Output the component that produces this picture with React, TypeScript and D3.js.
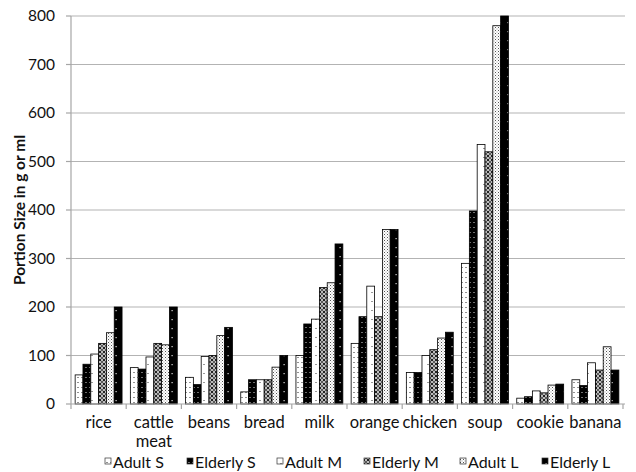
import React from "react";
import * as d3 from "d3";

const categories = ["rice", "cattle meat", "beans", "bread", "milk", "orange", "chicken", "soup", "cookie", "banana"];
const seriesNames = ["Adult S", "Elderly S", "Adult M", "Elderly M", "Adult L", "Elderly L"];
const adultS = [60, 75, 55, 25, 100, 125, 65, 290, 12, 50];
const elderlyS = [82, 72, 40, 50, 165, 180, 65, 398, 15, 38];
const adultM = [103, 97, 98, 50, 175, 243, 100, 535, 27, 85];
const elderlyM = [125, 125, 100, 50, 240, 180, 112, 520, 23, 70];
const adultL = [147, 122, 141, 76, 250, 360, 136, 780, 39, 118];
const elderlyL = [200, 200, 158, 100, 330, 360, 148, 800, 41, 70];
const yTicks = [0, 100, 200, 300, 400, 500, 600, 700, 800];

const seriesValues = [adultS, elderlyS, adultM, elderlyM, adultL, elderlyL];
const patternIds = ["pAS", "pES", "pAM", "pEM", "pAL", "pEL"];

const W = 636, H = 472;
const left = 71, right = 623, top = 16, bottom = 404;
const font = "Lato, 'Open Sans', sans-serif";

export default function App() {
  const x0 = d3.scaleBand<string>().domain(categories).range([left, right]).paddingInner(0).paddingOuter(0);
  const x1 = d3.scaleBand<string>().domain(seriesNames).range([0, x0.bandwidth()]).paddingInner(0).paddingOuter(0.53);
  const y = d3.scaleLinear().domain([0, 800]).range([bottom, top]);

  const boundaries = categories.map((c) => x0(c) as number).concat([right]);

  const legendX = [105, 187, 277, 364, 460, 542];

  return (
    <svg width={W} height={H} style={{ position: "absolute", left: 0, top: 0, background: "#fff" }} fontFamily={font}>
      <defs>
        <pattern id="pAS" width="4" height="5" patternUnits="userSpaceOnUse">
          <rect width="4" height="5" fill="#fff" />
          <rect x="1.5" y="2" width="1" height="1" fill="#222" />
        </pattern>
        <pattern id="pES" width="4" height="5" patternUnits="userSpaceOnUse">
          <rect width="4" height="5" fill="#000" />
          <rect x="1.5" y="2" width="1" height="1" fill="#ddd" />
        </pattern>
        <pattern id="pAM" width="8" height="9" patternUnits="userSpaceOnUse">
          <rect width="8" height="9" fill="#fff" />
          <rect x="3.5" y="4" width="1" height="1" fill="#333" />
        </pattern>
        <pattern id="pEM" width="4" height="4" patternUnits="userSpaceOnUse">
          <rect width="4" height="4" fill="#bbb" />
          <path d="M0,0 L4,4 M4,0 L0,4" stroke="#222" strokeWidth="1" />
          <rect x="1.5" y="1.5" width="1" height="1" fill="#fff" />
        </pattern>
        <pattern id="pAL" width="3" height="3" patternUnits="userSpaceOnUse">
          <rect width="3" height="3" fill="#fff" />
          <rect x="0" y="0" width="1" height="1" fill="#555" />
          <rect x="1.5" y="1.5" width="1" height="1" fill="#999" />
        </pattern>
        <pattern id="pEL" width="8" height="9" patternUnits="userSpaceOnUse">
          <rect width="8" height="9" fill="#000" />
          <rect x="3.5" y="4" width="1.2" height="1.2" fill="#ddd" />
        </pattern>
      </defs>

      {yTicks.filter((t) => t > 0).map((t) => (
        <line key={"g" + t} x1={left} x2={right + 2} y1={y(t)} y2={y(t)} stroke="#b3b3b3" strokeWidth={1.2} />
      ))}

      {categories.map((c, ci) => (
        <g key={c}>
          {seriesNames.map((s, si) => {
            const v = seriesValues[si][ci];
            const bx = (x0(c) as number) + (x1(s) as number);
            return (
              <rect key={s} x={bx} y={y(v)} width={x1.bandwidth()} height={y(0) - y(v)}
                fill={`url(#${patternIds[si]})`} stroke="#000" strokeWidth={0.8} />
            );
          })}
        </g>
      ))}

      <line x1={left} x2={left} y1={top} y2={bottom} stroke="#a6a6a6" strokeWidth={1.2} />
      <line x1={left} x2={right + 2} y1={bottom} y2={bottom} stroke="#a6a6a6" strokeWidth={1.2} />
      {yTicks.map((t) => (
        <g key={"t" + t}>
          <line x1={left - 5} x2={left} y1={y(t)} y2={y(t)} stroke="#a6a6a6" strokeWidth={1.2} />
          <text x={55} y={y(t)} dy="0.35em" textAnchor="end" fontSize={15.5} fill="#111">{t}</text>
        </g>
      ))}
      {boundaries.map((b, i) => (
        <line key={"b" + i} x1={b} x2={b} y1={bottom} y2={bottom + 5} stroke="#a6a6a6" strokeWidth={1.2} />
      ))}
      {categories.map((c) => {
        const cx = (x0(c) as number) + x0.bandwidth() / 2;
        const parts = c.split(" ");
        return (
          <text key={"l" + c} x={cx} y={428} textAnchor="middle" fontSize={16.5} fill="#111">
            {parts.map((p, i) => (
              <tspan key={i} x={cx} dy={i === 0 ? 0 : 19}>{p}</tspan>
            ))}
          </text>
        );
      })}

      <text transform={`translate(25,${(top + bottom) / 2}) rotate(-90)`} textAnchor="middle" fontSize={15.5}
        fontWeight="bold" fill="#111">Portion Size in g or ml</text>

      {seriesNames.map((s, i) => (
        <g key={"lg" + s} transform={`translate(${legendX[i]},0)`}>
          <rect x={0} y={458} width={6} height={6} fill={`url(#${patternIds[i]})`} stroke="#333" strokeWidth={0.7} />
          <text x={8} y={468} fontSize={16} fill="#111">{s}</text>
        </g>
      ))}
    </svg>
  );
}
